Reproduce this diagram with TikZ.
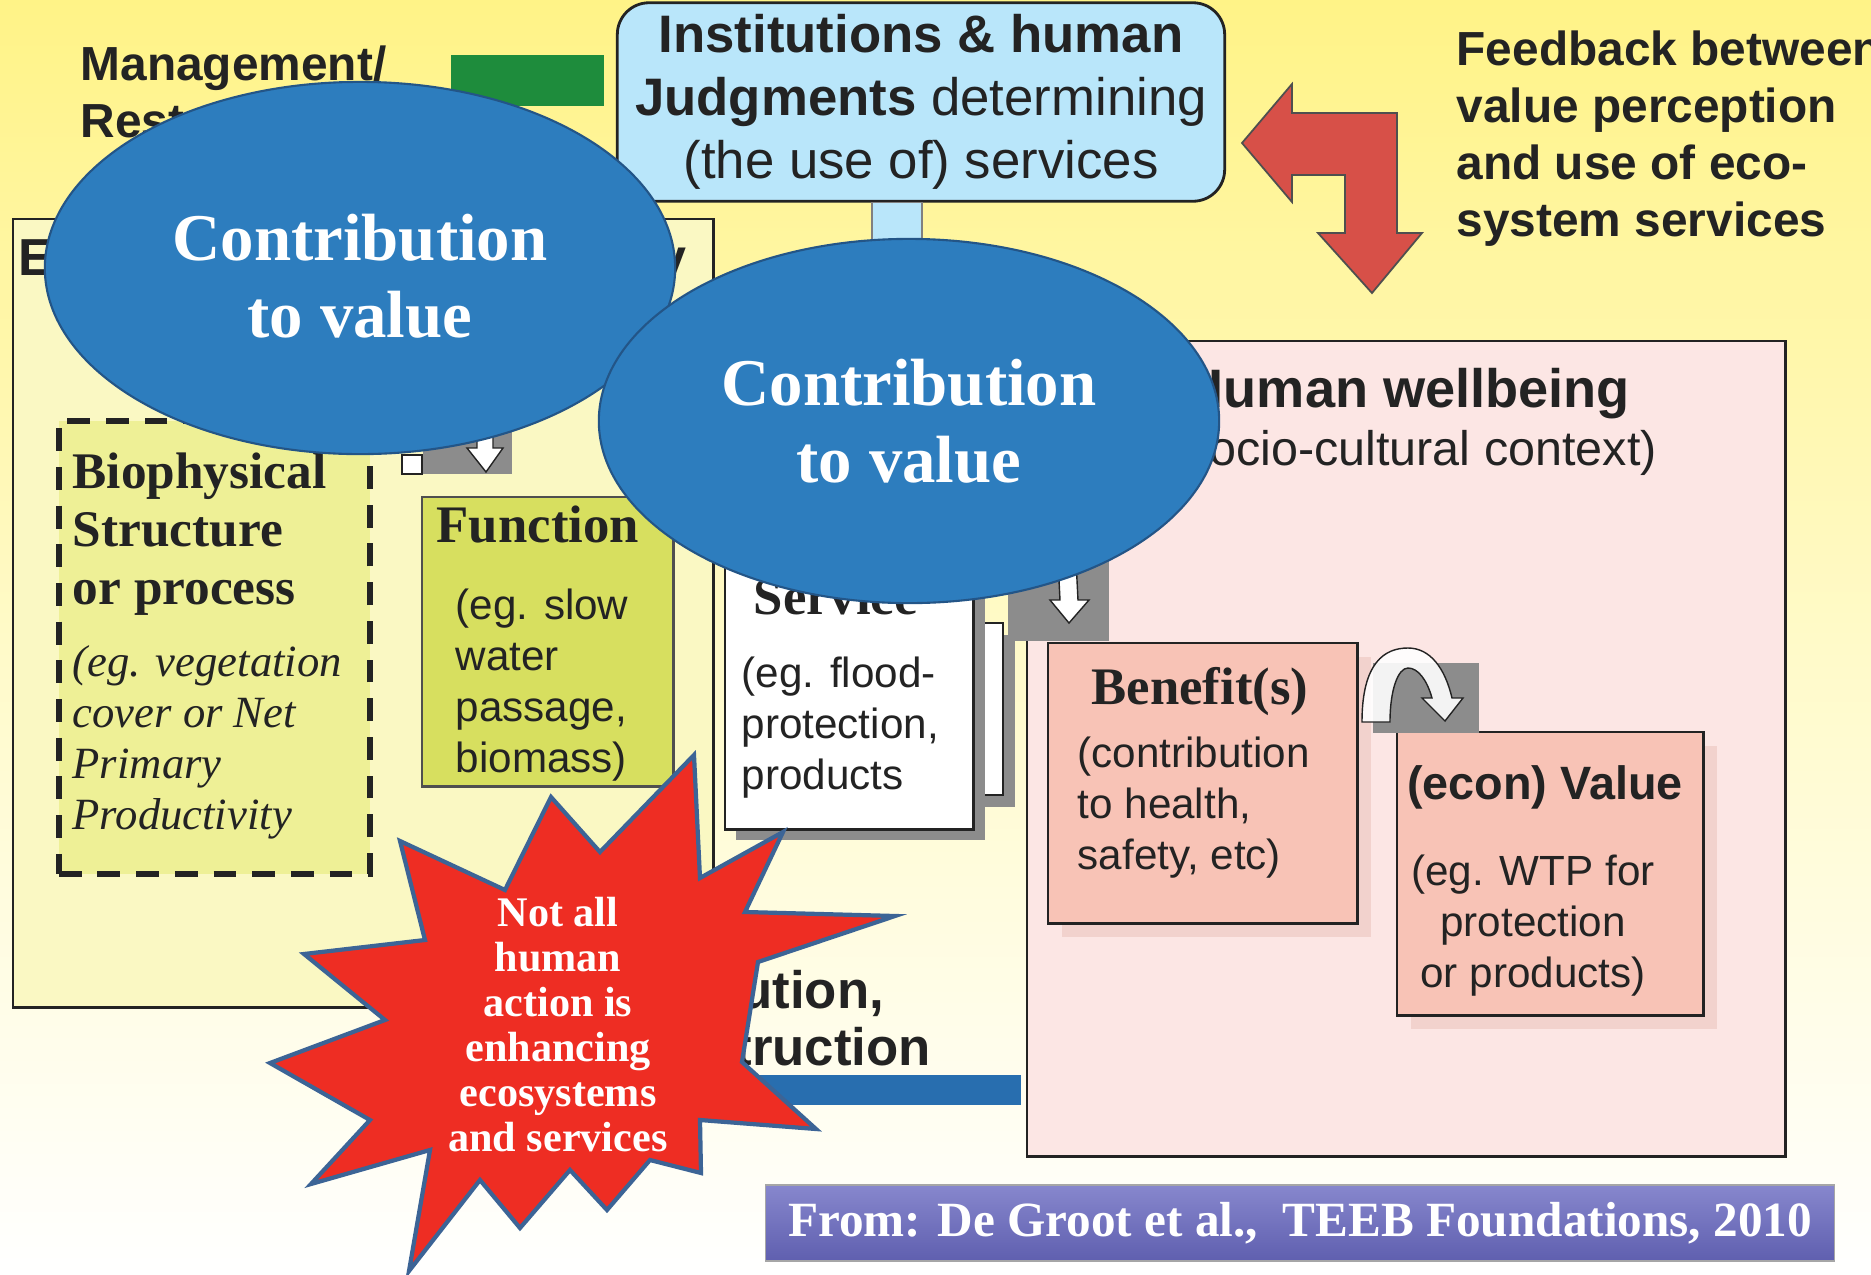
\documentclass[tikz,border=0pt]{standalone}
\usepackage{fontspec}
\setmainfont{Liberation Serif}
\setsansfont{Liberation Sans}
\usetikzlibrary{shapes.geometric}

\definecolor{bgtop}{RGB}{255,243,135}
\definecolor{bgmid}{RGB}{255,250,200}
\definecolor{ecofill}{RGB}{250,248,195}
\definecolor{biofill}{RGB}{238,240,150}
\definecolor{funcfill}{RGB}{215,223,95}
\definecolor{instfill}{RGB}{185,230,250}
\definecolor{wellfill}{RGB}{252,230,228}
\definecolor{benfill}{RGB}{248,195,182}
\definecolor{benshadow}{RGB}{242,210,205}
\definecolor{ovalblue}{RGB}{45,125,190}
\definecolor{ovalline}{RGB}{35,85,135}
\definecolor{mgmtgreen}{RGB}{30,140,60}
\definecolor{arrowred}{RGB}{215,80,72}
\definecolor{starred}{RGB}{238,45,35}
\definecolor{starline}{RGB}{60,100,150}
\definecolor{blockgray}{RGB}{140,140,140}
\definecolor{barblue}{RGB}{40,110,175}
\definecolor{citetop}{RGB}{135,135,205}
\definecolor{citebot}{RGB}{95,95,175}
\definecolor{txt}{RGB}{35,35,35}

\newcommand{\setfs}[2]{\fontsize{#1}{#2}\selectfont}

\tikzset{
  box/.style={draw=txt, line width=0.7pt, inner sep=0pt, anchor=north west},
  oval/.style={ellipse, draw=ovalline, line width=0.6pt, fill=ovalblue, text=white, align=center, inner sep=0pt, font=\rmfamily\bfseries\setfs{19}{22}},
  greyblock/.style={fill=blockgray, inner sep=0pt},
  whitearrow/.style={fill=white, draw=txt, line width=0.4pt},
  bodytext/.style={anchor=north west, align=left, inner sep=0pt, text=txt, font=\sffamily\setfs{12}{14.5}},
  serifhead/.style={inner sep=0pt, text=txt, font=\rmfamily\bfseries\setfs{15}{17}},
  headtext/.style={anchor=north west, align=left, inner sep=0pt, text=txt, font=\sffamily\bfseries\setfs{13.6}{16.2}}
}

\begin{document}
\begin{tikzpicture}[x=0.01cm, y=-0.01cm]
    \useasboundingbox (0,0) rectangle (1871,1275);
    % Fundo
    \shade[top color=bgtop, bottom color=white, middle color=bgmid] (0,0) rectangle (1871,1275);

    % Ecosystems
    \node[box, fill=ecofill, minimum width=7cm, minimum height=7.88cm] (eco) at (12,218) {};
    \node[anchor=west, inner sep=0pt, text=txt, font=\sffamily\bfseries\setfs{14.8}{17}] (ecotitle) at (18,262) {Ecosystems \& Biodiversity};

    % Management
    \node[headtext] (mgmt) at (80,45) {Management/\\Restoration};
    \node[fill=mgmtgreen, inner sep=0pt, anchor=north west, minimum width=1.53cm, minimum height=0.51cm] (mgmtbar) at (450,54) {};

    % Institutions
    \node[draw=txt, line width=0.8pt, rounded corners=9pt, fill=instfill, minimum width=6.07cm, minimum height=1.89cm, align=center, text=txt, font=\sffamily\setfs{15}{17.9}] (inst) at (921,102) {
        \textbf{Institutions \& human}\\
        \textbf{Judgments} determining\\
        (the use of) services
    };
    \draw[draw=gray, fill=instfill] ([xshift=-0.49cm]inst.south) rectangle ([xshift=0.01cm, yshift=-0.45cm]inst.south);

    % Feedback
    \draw[fill=arrowred, draw=txt!80, line width=0.5pt] (1242,143) -- (1292,84) -- (1292,113) -- (1397,113) -- (1397,233) -- (1422,233) -- (1372,293) -- (1318,233) -- (1345,233) -- (1345,175) -- (1292,175) -- (1292,202) -- cycle;
    \node[headtext] (feedback) at (1456,30) {Feedback between\\value perception\\and use of eco-\\system services};

    % Human wellbeing
    \node[box, fill=wellfill, minimum width=7.58cm, minimum height=8.15cm] (well) at (1026,340) {};
    \node[anchor=west, inner sep=0pt, text=txt, font=\sffamily\bfseries\setfs{15.4}{18}] (welltitle) at (1184,394) {Human wellbeing};
    \node[anchor=west, inner sep=0pt, text=txt, font=\sffamily\setfs{13.8}{17}] (wellsub) at (1168,453) {(socio-cultural context)};

    % Biophysical structure
    \node[box, fill=biofill, line width=1.6pt, dash pattern=on 6.5pt off 4.5pt, minimum width=3.11cm, minimum height=4.53cm] (bio) at (56,418) {};
    \node[anchor=north west, align=left, inner sep=0pt, text=txt, font=\rmfamily\bfseries\setfs{14.6}{16.5}] (biotitle) at (72,452) {Biophysical\\Structure\\or process};
    \node[anchor=north west, align=left, inner sep=0pt, text=txt, font=\rmfamily\itshape\setfs{12.7}{14.5}] (biodesc) at (72,645) {(eg. vegetation\\cover or Net\\Primary\\Productivity};

    % Function
    \node[box, draw=txt!80, fill=funcfill, minimum width=2.51cm, minimum height=2.89cm] (func) at (421,496) {};
    \node[serifhead, anchor=west] (functitle) at (436,525) {Function};
    \node[bodytext] (funcdesc) at (455,588) {(eg. slow\\water\\passage,\\biomass)};
    \node[greyblock, anchor=south west, minimum width=0.89cm, minimum height=0.45cm] (bioarrow) at (422,475) {};
    \draw[fill=white, draw=txt, line width=0.5pt] (402,455) rectangle (422,474);
    \draw[whitearrow] (477,420) -- (493,420) -- (493,448) -- (503,448) -- (486,472) -- (467,448) -- (477,448) -- cycle;

    % Service
    \fill[blockgray] (772,635) rectangle (1015,807);
    \draw[fill=white, draw=txt, line width=0.6pt] (760,623) rectangle (1003,795);
    \fill[blockgray] (736,567) rectangle (985,840);
    \node[box, fill=white, minimum width=2.48cm, minimum height=2.73cm] (serv) at (724,555) {};
    \node[serifhead, anchor=west] (servtitle) at (753,596) {Service};
    \node[bodytext] (servdesc) at (741,656) {(eg. flood-\\protection,\\products};
    \node[greyblock, anchor=south west, minimum width=1.01cm, minimum height=0.8cm] (servarrow) at (1007,642) {};
    \draw[whitearrow] (1058,560) -- (1076,560) -- (1078,600) -- (1089,600) -- (1069,623) -- (1050,600) -- (1060,600) -- cycle;

    % Benefit(s)
    \fill[benshadow] (1062,657) rectangle (1371,937);
    \node[box, fill=benfill, minimum width=3.09cm, minimum height=2.8cm] (ben) at (1047,642) {};
    \node[serifhead] (bentitle) at (1200,692) {Benefit(s)};
    \node[bodytext] (bendesc) at (1077,736) {(contribution\\to health,\\safety, etc)};

    % (econ) Value
    \fill[benshadow] (1411,746) rectangle (1717,1029);
    \node[box, fill=benfill, minimum width=3.06cm, minimum height=2.83cm] (val) at (1396,731) {};
    \node[inner sep=0pt, text=txt, font=\sffamily\bfseries\setfs{13.3}{16}] (valtitle) at (1545,787) {(econ) Value};
    \node[bodytext, anchor=center, align=center] (valdesc) at (1533,926) {(eg. WTP for\\protection\\or products)};
    \node[greyblock, anchor=north west, minimum width=1.06cm, minimum height=0.7cm] (benarrow) at (1372,662) {};
    \draw[whitearrow, fill opacity=0.9] (1362,722) .. controls (1362,662) and (1385,648) .. (1408,648) .. controls (1430,648) and (1445,668) .. (1452,698) -- (1463,698) -- (1445,721) -- (1422,698) -- (1432,698) .. controls (1427,680) and (1418,668) .. (1408,668) .. controls (1398,668) and (1390,690) .. (1390,722) -- cycle;

    % Pollution
    \node[fill=barblue, inner sep=0pt, anchor=north west, minimum width=3cm, minimum height=0.3cm] (bar) at (720,1074) {};
    \node[anchor=north west, align=left, inner sep=0pt, text=txt, font=\sffamily\bfseries\setfs{15}{16}] (poll) at (643,970) {Pollution,\\destruction};

    % Contribution to value
    \node[oval, minimum width=6.3cm, minimum height=3.72cm] (oval1) at (360,268) {};
    \node[oval, fill=none, draw=none, yshift=-0.08cm] (oval1text) at (oval1.center) {Contribution\\to value};
    \node[oval, minimum width=6.2cm, minimum height=3.64cm] (oval2) at (909,421) {Contribution\\to value};

    % Not all human action
    \draw[fill=starred, draw=starline, line width=1.2pt] (551,797) -- (600,852) -- (694,755) -- (700,878) -- (783,832) -- (745,912) -- (895,916) -- (758,962) -- (742,1062) -- (816,1129) -- (700,1120) -- (701,1173) -- (650,1160) -- (607,1210) -- (570,1170) -- (520,1228) -- (480,1180) -- (409,1271) -- (430,1150) -- (311,1184) -- (370,1120) -- (270,1063) -- (385,1020) -- (304,954) -- (425,940) -- (400,841) -- (505,890) -- cycle;
    \node[align=center, inner sep=0pt, text=white, font=\rmfamily\bfseries\setfs{12}{12.8}] (startext) at (558,1025) {Not all\\human\\action is\\enhancing\\ecosystems\\and services};

    % Fonte
    \node[draw=gray!70, top color=citetop, bottom color=citebot, minimum width=10.68cm, minimum height=0.76cm, inner sep=0pt, text=white, font=\rmfamily\bfseries\setfs{14}{16}] (cite) at (1300,1223) {From: De Groot et al.,\ \ TEEB Foundations, 2010};
\end{tikzpicture}
\end{document}
